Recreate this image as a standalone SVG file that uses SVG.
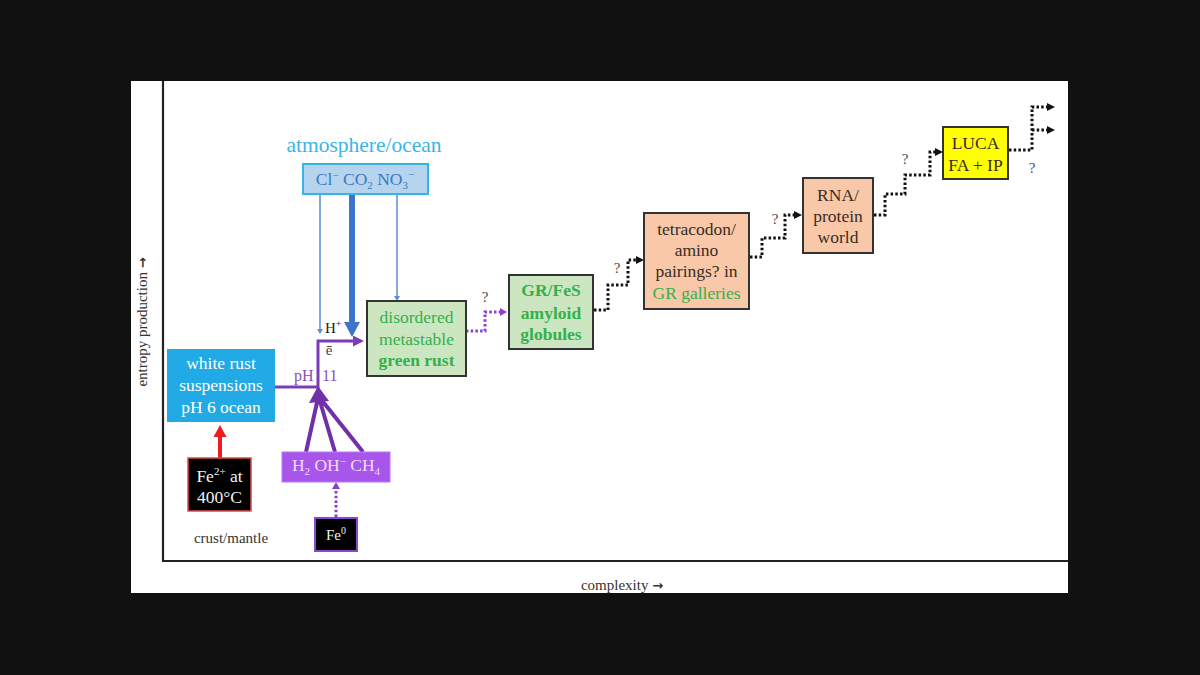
<svg xmlns="http://www.w3.org/2000/svg" width="1200" height="675" viewBox="0 0 1200 675">
<defs>
<style>
.t{font-family:"Liberation Serif","Times New Roman",serif;font-size:17.5px;text-anchor:middle}
.dark{fill:#3a2c24}
.grn{fill:#34b04c}
.wht{fill:#ffffff}
.q{font-family:"Liberation Serif",serif;font-size:15px;fill:#4a4a4a;text-anchor:middle}
.box{stroke:#333;stroke-width:2}
.gbox{fill:#cce6c2}
.pbox{fill:#f8c8a8}
.dotk{fill:none;stroke:#111;stroke-width:3;stroke-dasharray:2.5 2.2}
.dotp{fill:none;stroke:#8a3fd0;stroke-width:3;stroke-dasharray:2.5 2.2}
.ax{font-family:"Liberation Serif",serif;font-size:15px;fill:#333;text-anchor:middle}
.arr{font-family:"DejaVu Sans",sans-serif;font-size:13px;font-weight:bold}
</style>
<marker id="mBlueBig" viewBox="0 -8 15 16" markerWidth="15" markerHeight="16" refX="0" refY="0" markerUnits="userSpaceOnUse" orient="auto"><path d="M0,-8 L15,0 L0,8 z" fill="#3a74cc"/></marker>
<marker id="mBlueSmall" viewBox="0 -3 5 6" markerWidth="5" markerHeight="6" refX="0" refY="0" markerUnits="userSpaceOnUse" orient="auto"><path d="M0,-3 L5,0 L0,3 z" fill="#5a8ed6"/></marker>
<marker id="mPurple" viewBox="0 -5.5 11 11" markerWidth="11" markerHeight="11" refX="0" refY="0" markerUnits="userSpaceOnUse" orient="auto"><path d="M0,-5.5 L11,0 L0,5.5 z" fill="#7a3cb8"/></marker>
<marker id="mPurpleSmall" viewBox="0 -4 7 8" markerWidth="7" markerHeight="8" refX="0" refY="0" markerUnits="userSpaceOnUse" orient="auto"><path d="M0,-4 L7,0 L0,4 z" fill="#8a3fd0"/></marker>
<marker id="mRed" viewBox="0 -6.5 12 13" markerWidth="12" markerHeight="13" refX="0" refY="0" markerUnits="userSpaceOnUse" orient="auto"><path d="M0,-6.5 L12,0 L0,6.5 z" fill="#ee1c1c"/></marker>
<marker id="mBlack" viewBox="0 -4 8 8" markerWidth="8" markerHeight="8" refX="0" refY="0" markerUnits="userSpaceOnUse" orient="auto"><path d="M0,-4 L8,0 L0,4 z" fill="#111"/></marker>
</defs>

<rect x="0" y="0" width="1200" height="675" fill="#111"/>
<rect x="131" y="81" width="937" height="512" fill="#ffffff"/>

<g id="axes">
<path d="M163,81 V561 H1068" fill="none" stroke="#222" stroke-width="2.2"/>
<text transform="translate(147,322) rotate(-90)" class="ax">entropy production <tspan class="arr">→</tspan></text>
<text x="622" y="590" class="ax">complexity <tspan class="arr">→</tspan></text>
</g>

<g id="connectors">
<path d="M320,194 V329" stroke="#5a8ed6" stroke-width="1.5" fill="none" marker-end="url(#mBlueSmall)"/>
<path d="M352,194 V322" stroke="#3a74cc" stroke-width="6" fill="none" marker-end="url(#mBlueBig)"/>
<path d="M397,194 V296" stroke="#5a8ed6" stroke-width="1.5" fill="none" marker-end="url(#mBlueSmall)"/>
<path d="M275,387 H318 V341 H353" stroke="#7a3cb8" stroke-width="3" fill="none" marker-end="url(#mPurple)"/>
<path d="M306,452 L318,398 M335,452 L319,398 M363,452 L320,398" stroke="#7030a8" stroke-width="4" fill="none"/>
<polygon points="318,386 309,403 329,401" fill="#7030a8"/>
<path d="M220,458 V437" stroke="#ee1c1c" stroke-width="4" fill="none" marker-end="url(#mRed)"/>
<path d="M336,517 V489" class="dotp" marker-end="url(#mPurpleSmall)"/>
<path d="M466,331 H485 V312 H500" class="dotp" marker-end="url(#mPurpleSmall)"/>
<path d="M594,310 H608 V285 H628 V260 H636" class="dotk" marker-end="url(#mBlack)"/>
<path d="M750,257 H762 V238 H785 V215 H794" class="dotk" marker-end="url(#mBlack)"/>
<path d="M874,215 H885 V194 H905 V175 H930 V152 H935" class="dotk" marker-end="url(#mBlack)"/>
<path d="M1009,150 H1032 V107 H1047" class="dotk" marker-end="url(#mBlack)"/>
<path d="M1032,130 H1047" class="dotk" marker-end="url(#mBlack)"/>
<text x="485" y="302" class="q">?</text>
<text x="617" y="273" class="q">?</text>
<text x="775" y="224" class="q">?</text>
<text x="905" y="164" class="q">?</text>
<text x="1032" y="173" class="q">?</text>
<text x="325" y="333" style="font-family:'Liberation Serif',serif;font-size:15px;fill:#222">H<tspan dy="-6" font-size="10">+</tspan></text>
<text x="329" y="355" style="font-family:'Liberation Serif',serif;font-size:15px;fill:#444;text-anchor:middle">ē</text>
<text x="294" y="381" style="font-family:'Liberation Serif',serif;font-size:16px;fill:#8a4cc8">pH<tspan x="322">11</tspan></text>
</g>

<g id="atmosphere">
<text x="364" y="152" style="font-family:'Liberation Serif',serif;font-size:21.5px;fill:#3cb4e8;text-anchor:middle">atmosphere/ocean</text>
<rect x="303" y="164" width="125" height="30" fill="#b6d4ee" stroke="#37b4e6" stroke-width="2"/>
<text x="365" y="185" class="t" style="fill:#3a78c0;font-size:17.5px">Cl<tspan dy="-6" font-size="11">−</tspan><tspan dy="6"> CO</tspan><tspan dy="4" font-size="11">2</tspan><tspan dy="-4"> NO</tspan><tspan dy="4" font-size="11">3</tspan><tspan dy="-11" font-size="11">−</tspan></text>
</g>

<g id="white-rust">
<rect x="167" y="349" width="108" height="73" fill="#22aae6"/>
<text x="221" y="369" class="t wht">white rust</text>
<text x="221" y="391" class="t wht">suspensions</text>
<text x="221" y="413" class="t wht">pH 6 ocean</text>
</g>

<g id="fe2">
<rect x="188" y="458" width="63" height="53" fill="#000" stroke="#e04848" stroke-width="1.5"/>
<text x="219.5" y="482" class="t" style="fill:#f2f2f2;font-size:17.5px">Fe<tspan dy="-7" font-size="11">2+</tspan><tspan dy="7"> at</tspan></text>
<text x="219.5" y="503" class="t" style="fill:#f2f2f2;font-size:17.5px">400°C</text>
</g>

<g id="crust">
<text x="231" y="543" class="ax">crust/mantle</text>
</g>

<g id="reductants">
<rect x="282" y="452" width="108" height="30" fill="#a855ec" stroke="#b878f4" stroke-width="1"/>
<text x="336" y="471" class="t" style="fill:#f0dcff;font-size:17.5px">H<tspan dy="4" font-size="11">2</tspan><tspan dy="-4">  OH</tspan><tspan dy="-6" font-size="11">−</tspan><tspan dy="6"> CH</tspan><tspan dy="4" font-size="11">4</tspan></text>
</g>

<g id="fe0">
<rect x="315" y="518" width="42" height="33" fill="#000" stroke="#8a48d0" stroke-width="2"/>
<text x="336" y="540" class="t" style="fill:#f0f0f0;font-size:15px">Fe<tspan dy="-6" font-size="10">0</tspan></text>
</g>

<g id="green-rust">
<rect x="367" y="301" width="99" height="75" class="box gbox"/>
<text x="416.5" y="323" class="t grn">disordered</text>
<text x="416.5" y="345" class="t grn">metastable</text>
<text x="416.5" y="366" class="t grn" font-weight="bold">green rust</text>
</g>

<g id="gr-fes">
<rect x="509" y="275" width="84" height="74" class="box gbox"/>
<text x="551" y="296" class="t grn" font-weight="bold">GR/FeS</text>
<text x="551" y="319" class="t grn" font-weight="bold">amyloid</text>
<text x="551" y="340" class="t grn" font-weight="bold">globules</text>
</g>

<g id="tetracodon">
<rect x="644" y="213" width="105" height="96" class="box pbox"/>
<text x="696.5" y="235" class="t dark">tetracodon/</text>
<text x="696.5" y="256" class="t dark">amino</text>
<text x="696.5" y="277" class="t dark">pairings? in</text>
<text x="696.5" y="299" class="t grn">GR galleries</text>
</g>

<g id="rna">
<rect x="803" y="178" width="70" height="75" class="box pbox"/>
<text x="838" y="201" class="t dark">RNA/</text>
<text x="838" y="222" class="t dark">protein</text>
<text x="838" y="243" class="t dark">world</text>
</g>

<g id="luca">
<rect x="943" y="127" width="65" height="52" class="box" fill="#ffff00"/>
<text x="975.5" y="149" class="t dark">LUCA</text>
<text x="975.5" y="171" class="t dark">FA + IP</text>
</g>
</svg>
